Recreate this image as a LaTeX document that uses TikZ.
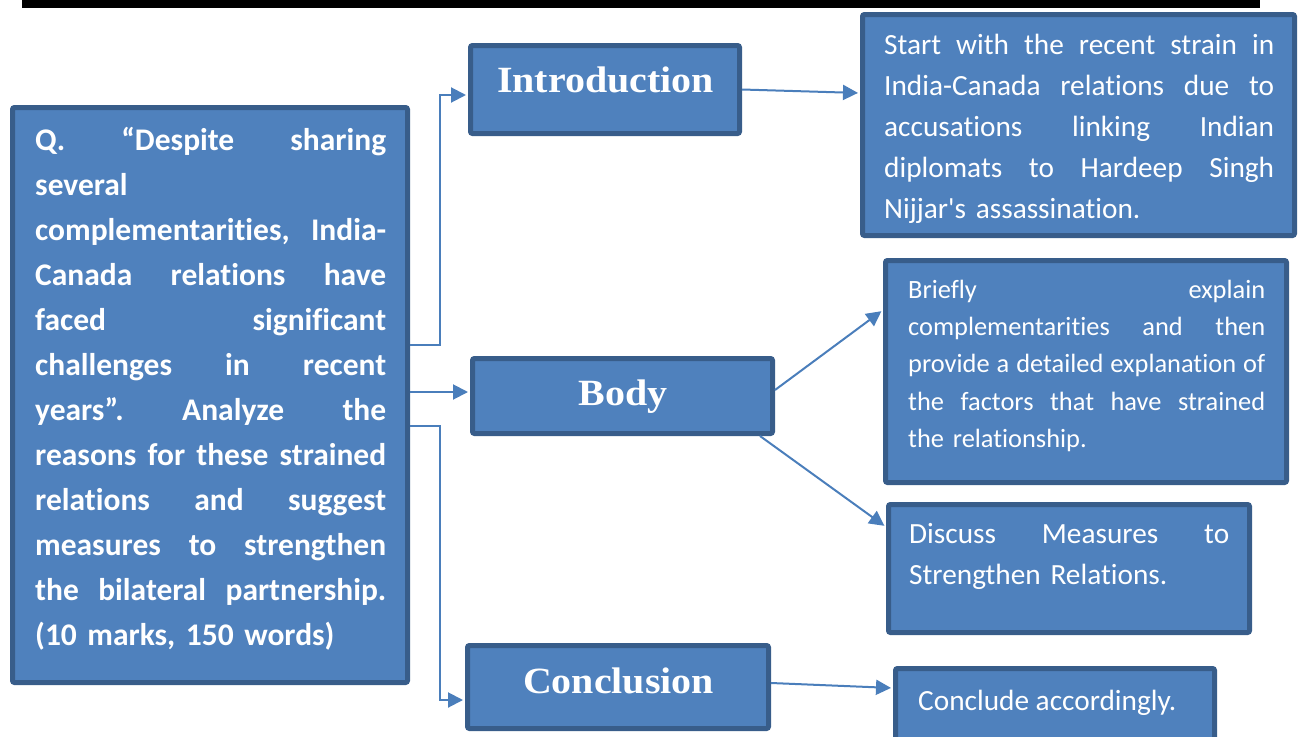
\documentclass[tikz,border=0pt]{standalone}
\usepackage{fontspec}
\setmainfont{Carlito}[Ligatures={NoCommon,TeXOff}]
\newfontfamily\headfont[FakeStretch=1.08]{Liberation Serif}
\usetikzlibrary{arrows.meta}

\definecolor{boxfill}{HTML}{4F81BD}
\definecolor{boxline}{HTML}{385D8A}
\definecolor{linkcol}{HTML}{4A7EBB}

% one fully justified line of text, as wide as \colw
\newlength\colw
\newcommand\jl[1]{\makebox[\colw][s]{\spaceskip=.226em plus 1fil\xspaceskip=\spaceskip #1}}

\tikzset{
  panel/.style={draw=boxline, fill=boxfill, line width=5pt, rounded corners=2pt, inner sep=0pt},
  head/.style={text=white, inner sep=0pt, anchor=base,
    font=\headfont\bfseries\fontsize{37}{40}\selectfont},
  qtxt/.style={text=white, inner sep=0pt, anchor=base west, align=left,
    text width=351pt, font=\bfseries\fontsize{31.5}{45}\selectfont},
  rtxt/.style={text=white, inner sep=0pt, anchor=base west, align=left,
    font=\fontsize{29.3}{41}\selectfont},
  stxt/.style={text=white, inner sep=0pt, anchor=base west, align=left,
    font=\fontsize{26.4}{37.2}\selectfont},
  link/.style={draw=linkcol, line width=2pt, shorten >=2pt,
    -{Triangle[length=15pt,width=15pt]}},
}

\begin{document}
\begin{tikzpicture}[x=1pt,y=-1pt]
\useasboundingbox (0,0) rectangle (1298,736);

% heading rule
\fill[black] (22,0) rectangle (1260,8);

% boxes
\node[panel, minimum width=395pt, minimum height=575pt] (q) at (210,395) {};
\node[panel, minimum width=269pt, minimum height=88pt] (intro) at (605,89.5) {};
\node[panel, minimum width=300pt, minimum height=75pt] (body) at (622.5,396) {};
\node[panel, minimum width=301pt, minimum height=83pt] (concl) at (618,687) {};
\node[panel, minimum width=432pt, minimum height=221pt] (pintro) at (1078.5,125) {};
\node[panel, minimum width=401pt, minimum height=222pt] (pbodya) at (1086,371.5) {};
\node[panel, minimum width=361pt, minimum height=128pt] (pbodyb) at (1069,568.5) {};
\node[panel, minimum width=319pt, minimum height=75pt] (pconcl) at (1055,706) {};

% question
\node[qtxt] (qtext) at (35,150) {\setlength\colw{351pt}%
\jl{Q. “Despite sharing}\\
several\\
\jl{complementarities, India-}\\
\jl{Canada relations have}\\
\jl{faced significant}\\
\jl{challenges in recent}\\
\jl{years”. Analyze the}\\
\jl{reasons for these strained}\\
\jl{relations and suggest}\\
\jl{measures to strengthen}\\
\jl{the bilateral partnership.}\\
(10 marks, 150 words)};

% section headings
\node[head] (introh) at (605.5,92) {Introduction};
\node[head] (bodyh) at (623,405) {Body};
\node[head] (conclh) at (618.5,693) {Conclusion};

% notes
\node[rtxt, text width=390pt] (introt) at (884,54) {\setlength\colw{390pt}%
\jl{Start with the recent strain in}\\
\jl{India-Canada relations due to}\\
\jl{accusations linking Indian}\\
\jl{diplomats to Hardeep Singh}\\
Nijjar's assassination.};

\node[stxt, text width=357pt] (bodyat) at (908,298.5) {\setlength\colw{357pt}%
\jl{Briefly explain}\\
\jl{complementarities and then}\\
\jl{provide a detailed explanation of}\\
\jl{the factors that have strained}\\
the relationship.};

\node[rtxt, text width=320pt] (bodybt) at (909,543.5) {\setlength\colw{320pt}%
\jl{Discuss Measures to}\\
Strengthen Relations.};

\node[rtxt] (conclt) at (918,710) {Conclude accordingly.};

% connectors
\draw[link] ([yshift=50pt]q.east) -- ++(30,0) |- ([yshift=-5.5pt]intro.west);
\draw[link] ([yshift=4pt]body.west -| q.east) -- ([yshift=4pt]body.west);
\draw[link] ([yshift=-31pt]q.east) -- ++(30,0) |- ([yshift=-13pt]concl.west);
\draw[link] (intro.east) -- ([yshift=32pt]pintro.west);
\draw[link] ([yshift=6pt]body.east) -- ([yshift=61.5pt]pbodya.west);
\draw[link] ([xshift=-15pt]body.south east) -- ([yshift=41.5pt]pbodyb.west);
\draw[link] ([yshift=4pt]concl.east) -- ([yshift=18pt]pconcl.west);
\end{tikzpicture}
\end{document}
